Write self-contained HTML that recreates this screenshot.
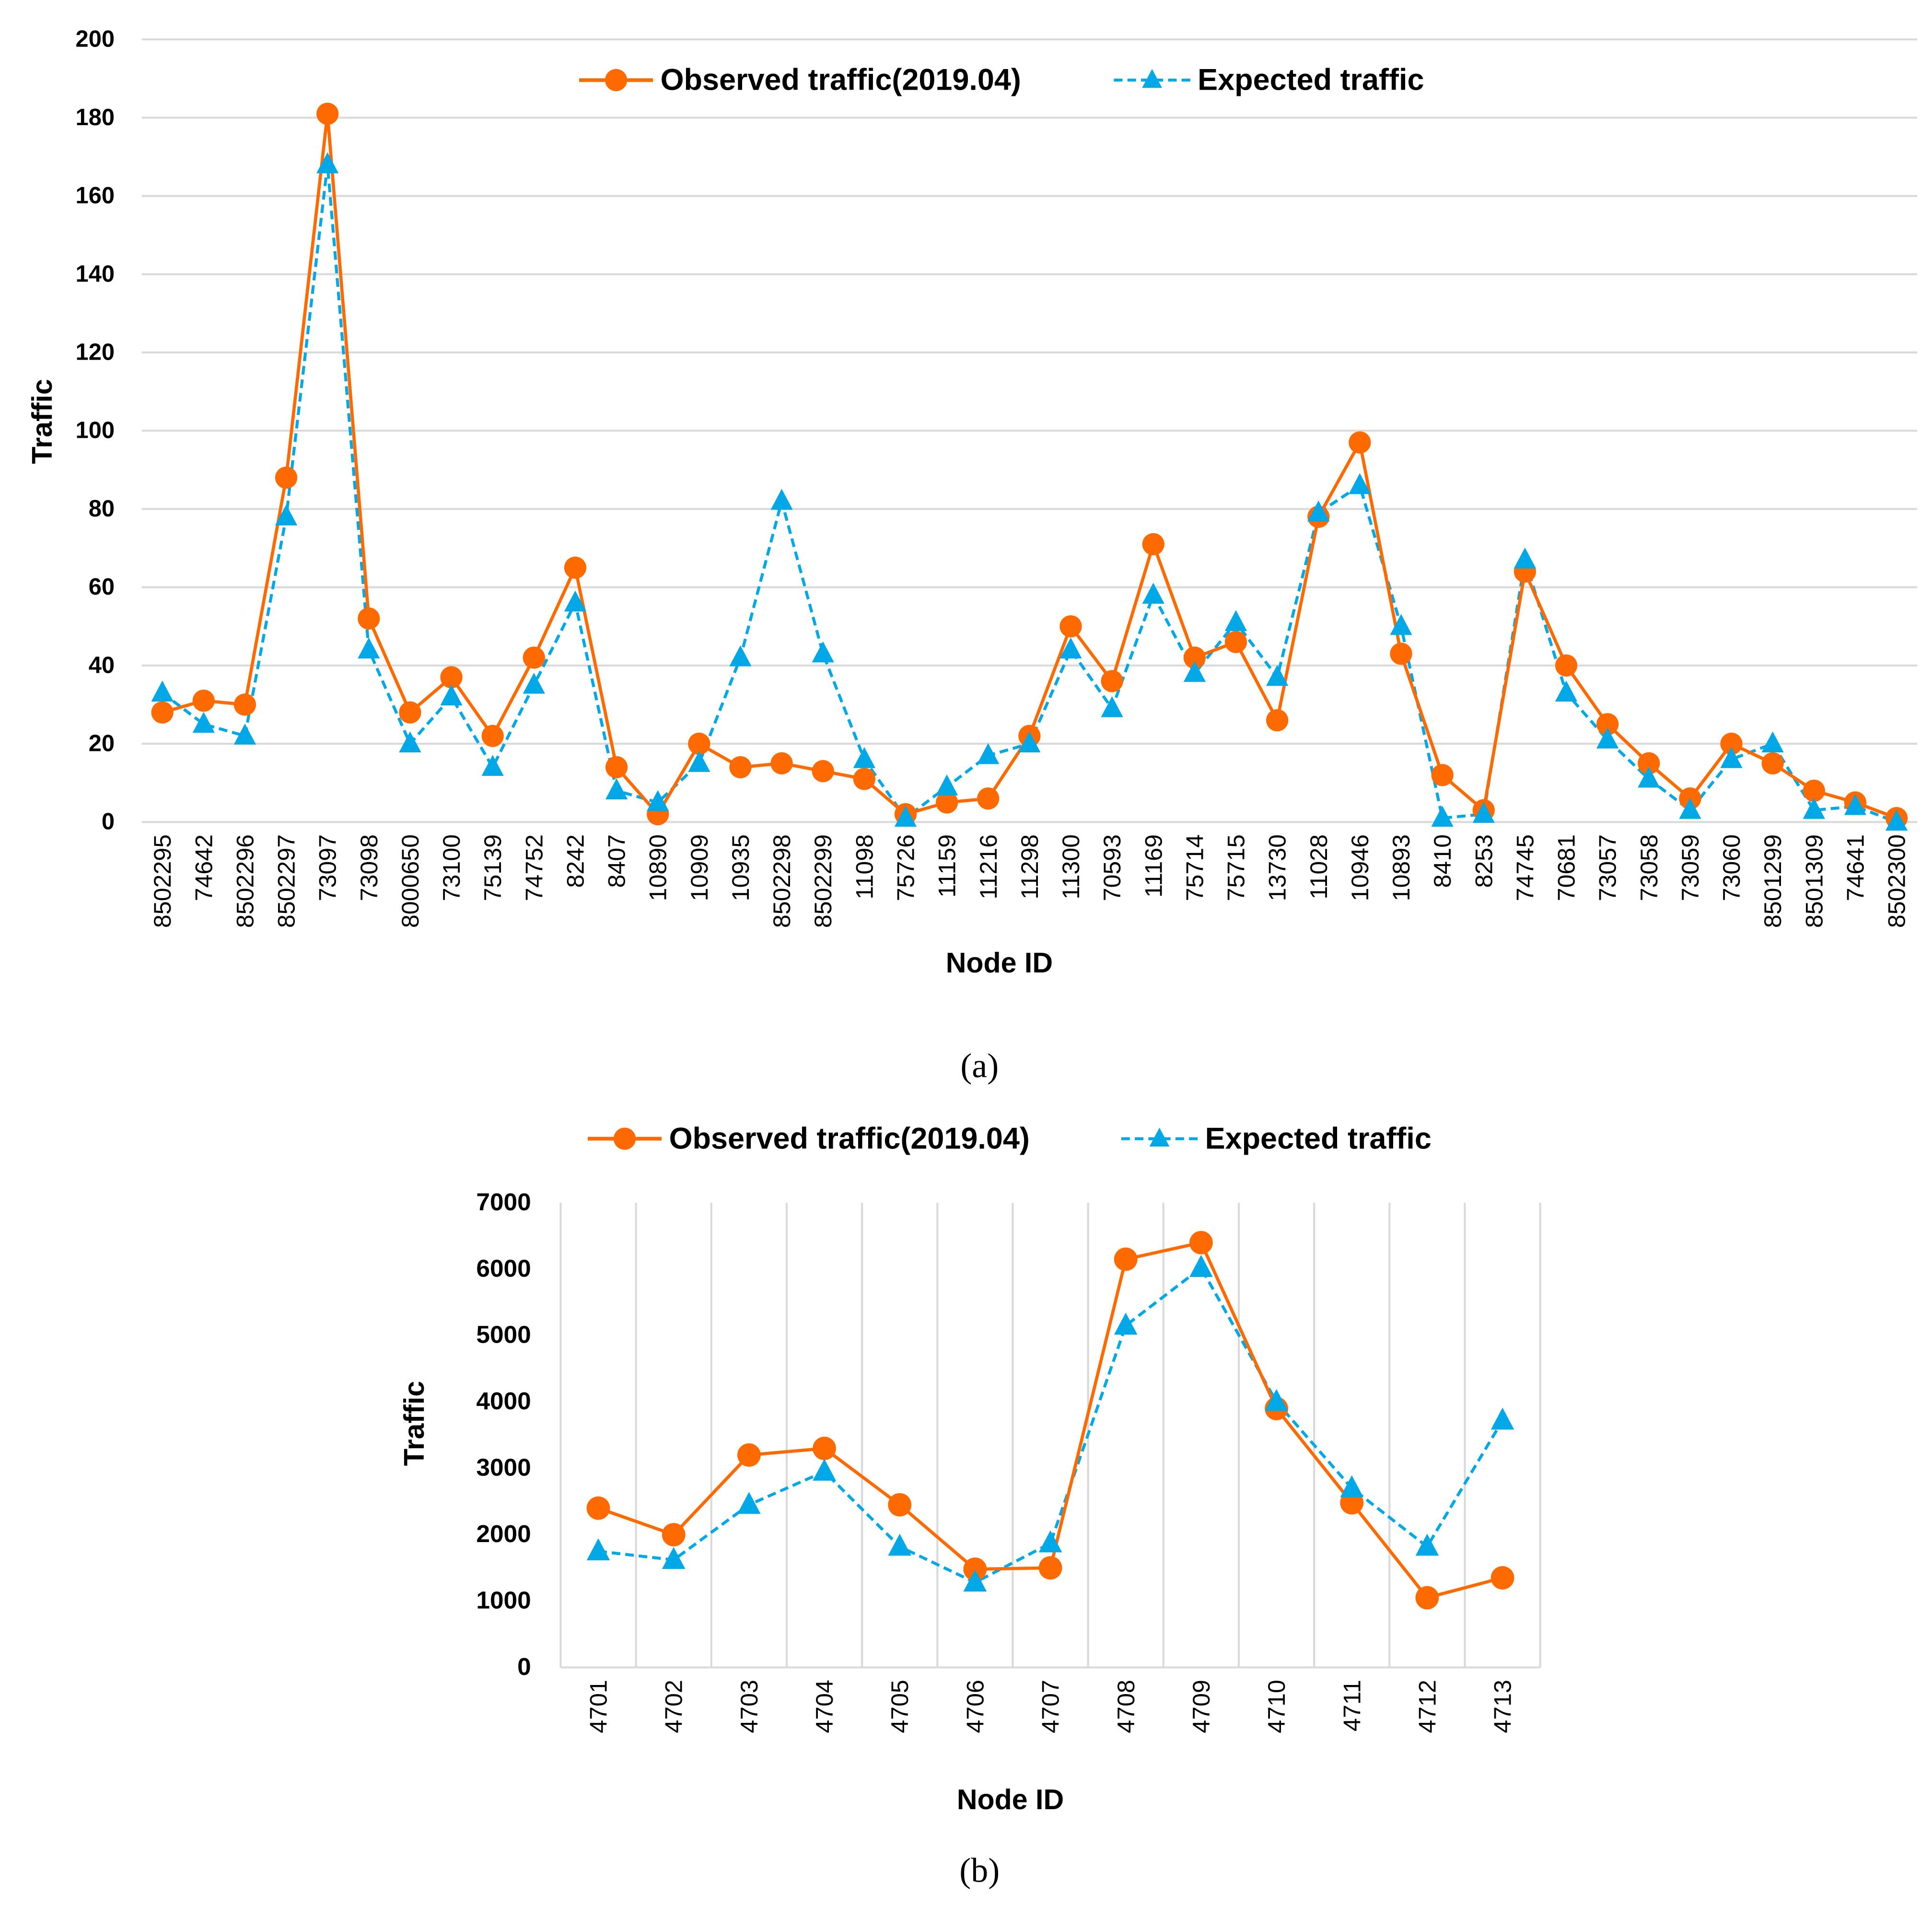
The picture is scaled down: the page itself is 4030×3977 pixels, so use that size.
<!DOCTYPE html>
<html><head><meta charset="utf-8"><style>
html,body{margin:0;padding:0;background:#fff}
svg{display:block}
text{font-family:"Liberation Sans","Noto Sans CJK KR",sans-serif}
</style></head><body>
<svg id="root" width="4030" height="3977" viewBox="0 0 1568 1547.4" preserveAspectRatio="none" xmlns="http://www.w3.org/2000/svg">
<g id="chartA"></g>
<g id="chartB"></g>
<text x="795" y="874" text-anchor="middle" font-size="28" style="font-family:'Liberation Serif',serif">(a)</text>
<text x="795" y="1527" text-anchor="middle" font-size="28" style="font-family:'Liberation Serif',serif">(b)</text>
</svg>
<script>
const catsA=["8502295","74642","8502296","8502297","73097","73098","8000650","73100","75139","74752","8242","8407","10890","10909","10935","8502298","8502299","11098","75726","11159","11216","11298","11300","70593","11169","75714","75715","13730","11028","10946","10893","8410","8253","74745","70681","73057","73058","73059","73060","8501299","8501309","74641","8502300"];
const obsA=[28,31,30,88,181,52,28,37,22,42,65,14,2,20,14,15,13,11,2,5,6,22,50,36,71,42,46,26,78,97,43,12,3,64,40,25,15,6,20,15,8,5,1];
const expA=[33,25,22,78,168,44,20,32,14,35,56,8,5,15,42,82,43,16,1,9,17,20,44,29,58,38,51,37,79,86,50,1,2,67,33,21,11,3,16,20,3,4,0];
const ticksA=[0,20,40,60,80,100,120,140,160,180,200];
const catsB=["4701","4702","4703","4704","4705","4706","4707","4708","4709","4710","4711","4712","4713"];
const obsB=[2400,2000,3200,3300,2450,1480,1500,6150,6400,3900,2480,1050,1350];
const expB=[1750,1620,2450,2950,1820,1280,1870,5150,6020,4000,2700,1820,3720];
const ticksB=[0,1000,2000,3000,4000,5000,6000,7000];

const NS="http://www.w3.org/2000/svg";
function mk(parent,tag,attrs,text){const e=document.createElementNS(NS,tag);for(const k in attrs)e.setAttribute(k,attrs[k]);if(text!==undefined)e.textContent=text;parent.appendChild(e);return e;}
const OR="#ff6a00", BL="#00a8e8";
function tri(x,y,s){return `${x},${y-s} ${x-s*0.9},${y+s*0.7} ${x+s*0.9},${y+s*0.7}`;}

function drawChart(g,cfg){
  const {cats,obs,exp,ticks,x0,x1,yTop,yBot,ymax,band,tickFs,labFs,key}=cfg;
  const n=cats.length;
  const bw=(x1-x0)/n;
  const xs=i=>x0+bw*(i+0.5);
  const ys=v=>yBot-(v/ymax)*(yBot-yTop);
  ticks.forEach(t=>{
    if(!band||t===0){const l=mk(g,'line',{x1:x0,x2:x1,y1:ys(t),y2:ys(t),stroke:'#d9d9d9','stroke-width':1.6});
    }
    const tx=mk(g,'text',{x:cfg.tickX,y:ys(t)+6,'text-anchor':'end','font-size':tickFs,'font-weight':'bold'},String(t));
    
  });
  if(band){
    for(let i=0;i<=n;i++){const l=mk(g,'line',{x1:x0+bw*i,x2:x0+bw*i,y1:yTop,y2:yBot,stroke:'#d9d9d9','stroke-width':1.6});
      }
  }
  cats.forEach((c,i)=>{
    const x=xs(i),y=yBot+10;
    const t=mk(g,'text',{x:x,y:y,transform:`rotate(-90 ${x} ${y})`,'text-anchor':'end','font-size':labFs,dy:'0.35em'},c);
    
  });
  const pe=mk(g,'polyline',{points:exp.map((v,i)=>xs(i)+','+ys(v)).join(' '),fill:'none',stroke:BL,'stroke-width':2.4,'stroke-dasharray':'7,4'});
  
  const po=mk(g,'polyline',{points:obs.map((v,i)=>xs(i)+','+ys(v)).join(' '),fill:'none',stroke:OR,'stroke-width':2.6});
  
  obs.forEach((v,i)=>{const c=mk(g,'circle',{cx:xs(i),cy:ys(v),r:cfg.r,fill:OR});
    });
  exp.forEach((v,i)=>{const p=mk(g,'polygon',{points:tri(xs(i),ys(v),cfg.r+1),fill:BL});
    });
  const ax=mk(g,'text',{x:cfg.xtX,y:cfg.xtY,'text-anchor':'middle','font-size':23,'font-weight':'bold'},'Node ID');
  
  const ay=mk(g,'text',{x:cfg.ytX,y:cfg.ytY,'text-anchor':'middle','font-size':23,'font-weight':'bold',transform:`rotate(-90 ${cfg.ytX} ${cfg.ytY})`},'Traffic');
  
  const L=cfg.leg;
  const lg=mk(g,'g',{});
  
  mk(lg,'line',{x1:L.x,x2:L.x+60,y1:L.y,y2:L.y,stroke:OR,'stroke-width':3});
  mk(lg,'circle',{cx:L.x+30,cy:L.y,r:9,fill:OR});
  const t1=mk(lg,'text',{x:L.x+66,y:L.y+8,'font-size':24.5,'font-weight':'bold'},'Observed traffic(2019.04)');
  
  mk(lg,'line',{x1:L.x2,x2:L.x2+62,y1:L.y,y2:L.y,stroke:BL,'stroke-width':2.4,'stroke-dasharray':'7,4'});
  mk(lg,'polygon',{points:tri(L.x2+31,L.y,9),fill:BL});
  const t2=mk(lg,'text',{x:L.x2+68,y:L.y+8,'font-size':24.5,'font-weight':'bold'},'Expected traffic');
  
}
drawChart(document.getElementById('chartA'),{cats:catsA,obs:obsA,exp:expA,ticks:ticksA,x0:115,x1:1556,yTop:32,yBot:667,ymax:200,band:false,tickFs:19,labFs:19.5,r:9,tickX:93,xtX:811,xtY:789,ytX:42,ytY:342,leg:{x:470,x2:904,y:65}});
drawChart(document.getElementById('chartB'),{cats:catsB,obs:obsB,exp:expB,ticks:ticksB,x0:455,x1:1250,yTop:976,yBot:1353,ymax:7000,band:true,tickFs:20,labFs:19.5,r:9.5,tickX:431,xtX:820,xtY:1468,ytX:344,ytY:1155,leg:{x:477,x2:910,y:924}});
</script>
</body></html>
